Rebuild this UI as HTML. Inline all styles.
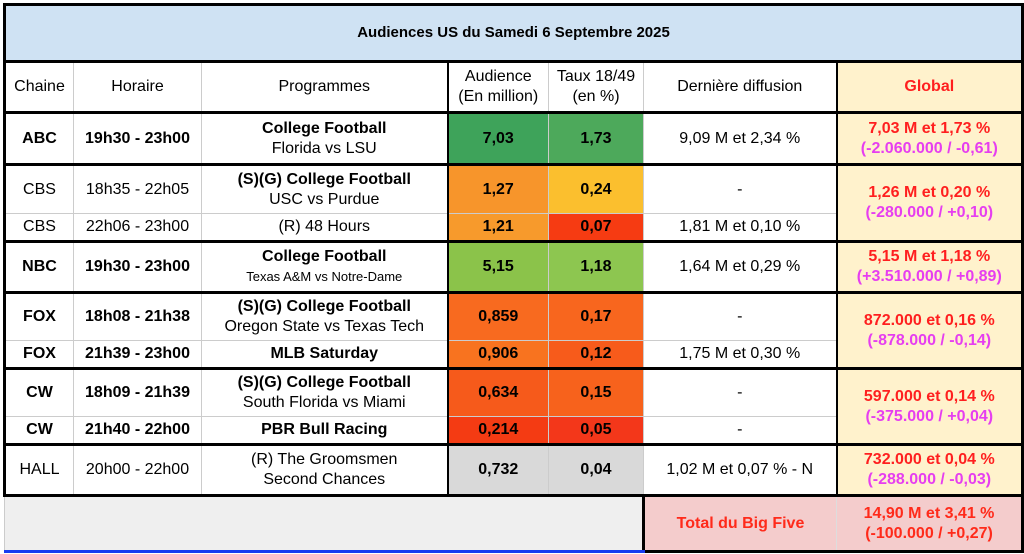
<!DOCTYPE html>
<html><head><meta charset="utf-8"><style>
body{margin:0;width:1024px;height:554px;background:#fff;font-family:"Liberation Sans",Arial,sans-serif;overflow:hidden}
table{position:absolute;left:3px;top:3px;border-collapse:collapse;table-layout:fixed;width:1018px}
td{border:1px solid #ccc;text-align:center;font-size:16px;color:#000;padding:0;line-height:20px;overflow:hidden;white-space:nowrap}
.b{font-weight:bold}
.s{font-size:13px}
.g{background:#fff2cc;color:#ff1f1f;font-weight:bold}
.g span{color:#e63ef0}
tr.t td{border-top:3px solid #000}
td.L{border-left:3px solid #000}
td.R{border-right:3px solid #000}
td.M{border-left:2px solid #000}
</style></head><body>
<table>
<colgroup><col style="width:69px"><col style="width:128px"><col style="width:246px"><col style="width:101px"><col style="width:95px"><col style="width:193px"><col style="width:186px"></colgroup>
<tr style="height:57px"><td colspan="7" class="b L R" style="background:#cfe2f3;font-size:15px;border-top:3px solid #000;border-bottom:3px solid #000">Audiences US du Samedi 6 Septembre 2025</td></tr>
<tr style="height:51px"><td class="L">Chaine</td><td>Horaire</td><td>Programmes</td><td class="M">Audience<br>(En million)</td><td>Taux 18/49<br>(en %)</td><td>Dernière diffusion</td><td class="g M R" style="color:#ff1f1f">Global</td></tr>
<tr class="t" style="height:52px"><td class="b L">ABC</td><td class="b">19h30 - 23h00</td><td><b>College Football</b><br>Florida vs LSU</td><td class="b M" style="background:#3ea35a">7,03</td><td class="b" style="background:#4da95b">1,73</td><td>9,09 M et 2,34 %</td><td class="g M R">7,03 M et 1,73 %<br><span>(-2.060.000 / -0,61)</span></td></tr>
<tr class="t" style="height:49px"><td class="L">CBS</td><td>18h35 - 22h05</td><td><b>(S)(G) College Football</b><br>USC vs Purdue</td><td class="b M" style="background:#f7952b">1,27</td><td class="b" style="background:#fbbf2e">0,24</td><td>-</td><td class="g M R" rowspan="2">1,26 M et 0,20 %<br><span>(-280.000 / +0,10)</span></td></tr>
<tr style="height:28px"><td class="L">CBS</td><td>22h06 - 23h00</td><td>(R) 48 Hours</td><td class="b M" style="background:#f79a2c">1,21</td><td class="b" style="background:#f63b12">0,07</td><td>1,81 M et 0,10 %</td></tr>
<tr class="t" style="height:51px"><td class="b L">NBC</td><td class="b">19h30 - 23h00</td><td><b>College Football</b><br><span class="s">Texas A&amp;M vs Notre-Dame</span></td><td class="b M" style="background:#8bc34a">5,15</td><td class="b" style="background:#8dc650">1,18</td><td>1,64 M et 0,29 %</td><td class="g M R">5,15 M et 1,18 %<br><span>(+3.510.000 / +0,89)</span></td></tr>
<tr class="t" style="height:48px"><td class="b L">FOX</td><td class="b">18h08 - 21h38</td><td><b>(S)(G) College Football</b><br>Oregon State vs Texas Tech</td><td class="b M" style="background:#f86a1f">0,859</td><td class="b" style="background:#f8661e">0,17</td><td>-</td><td class="g M R" rowspan="2">872.000 et 0,16 %<br><span>(-878.000 / -0,14)</span></td></tr>
<tr style="height:28px"><td class="b L">FOX</td><td class="b">21h39 - 23h00</td><td class="b">MLB Saturday</td><td class="b M" style="background:#f8731f">0,906</td><td class="b" style="background:#f75b1b">0,12</td><td>1,75 M et 0,30 %</td></tr>
<tr class="t" style="height:48px"><td class="b L">CW</td><td class="b">18h09 - 21h39</td><td><b>(S)(G) College Football</b><br>South Florida vs Miami</td><td class="b M" style="background:#f65a1b">0,634</td><td class="b" style="background:#f7621c">0,15</td><td>-</td><td class="g M R" rowspan="2">597.000 et 0,14 %<br><span>(-375.000 / +0,04)</span></td></tr>
<tr style="height:28px"><td class="b L">CW</td><td class="b">21h40 - 22h00</td><td class="b">PBR Bull Racing</td><td class="b M" style="background:#f43b13">0,214</td><td class="b" style="background:#f3371a">0,05</td><td>-</td></tr>
<tr class="t" style="height:51px"><td class="L" style="border-bottom:3px solid #000">HALL</td><td style="border-bottom:3px solid #000">20h00 - 22h00</td><td style="border-bottom:3px solid #000">(R) The Groomsmen<br>Second Chances</td><td class="b M" style="background:#d9d9d9;border-bottom:3px solid #000">0,732</td><td class="b" style="background:#d9d9d9;border-bottom:3px solid #000">0,04</td><td style="border-bottom:3px solid #000">1,02 M et 0,07 % - N</td><td class="g M R" style="border-bottom:3px solid #000">732.000 et 0,04 %<br><span>(-288.000 / -0,03)</span></td></tr>
<tr style="height:56px"><td colspan="5" style="background:#efefef;border-left:1px solid #ccc;border-bottom:3px solid #1a3cf0"></td><td class="b" style="background:#f4cccc;color:#ff2a1a;border:3px solid #000;border-right:1px solid #ddd">Total du Big Five</td><td class="b" style="background:#f4cccc;color:#ff2a1a;border:3px solid #000;border-left:none">14,90 M et 3,41 %<br>(-100.000 / +0,27)</td></tr>
</table>
</body></html>
